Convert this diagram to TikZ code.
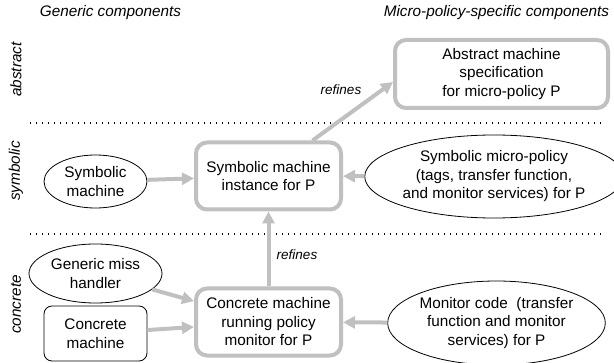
\documentclass[tikz,border=0pt]{standalone}
\usepackage{fontspec}
\setmainfont{Liberation Sans}
\usetikzlibrary{arrows.meta,shapes.geometric}
\definecolor{boxgray}{RGB}{192,192,192}
\begin{document}
\begin{tikzpicture}[x=1pt,y=1pt,
  every node/.style={font=\fontsize{15.3}{18.5}\selectfont, align=center, inner sep=0pt},
  bigbox/.style={draw=boxgray, line width=4pt, rounded corners=11pt, minimum width=145pt, minimum height=67pt, fill=white},
  oval/.style={draw=black, line width=0.8pt, ellipse},
  smallbox/.style={draw=black, line width=0.8pt, rounded corners=8pt},
  arr/.style={draw=boxgray, line width=4pt, -{Triangle[length=12pt,width=12pt]}},
  sepline/.style={line width=1.2pt, dash pattern=on 1.3pt off 4.7pt},
  lbl/.style={font=\fontsize{13.5}{16}\selectfont\itshape},
  hdr/.style={font=\fontsize{15.3}{18}\selectfont\itshape},
]
\useasboundingbox (0,0) rectangle (614,362);

% headers
\node[hdr] (hgen) at (110.5,349.5) {Generic components};
\node[hdr] (hmp) at (496.5,349.5) {Micro-policy-specific components};

% side labels
\node[hdr, rotate=90] (labs) at (16,292.5) {abstract};
\node[hdr, rotate=90] (lsym) at (16,191) {symbolic};
\node[hdr, rotate=90] (lcon) at (16,57.5) {concrete};

% separators
\coordinate (d1a) at (30,239);
\coordinate (d1b) at (603,239);
\coordinate (d2a) at (30,128);
\coordinate (d2b) at (603,128);
\draw[sepline] (d1a) -- (d1b);
\draw[sepline] (d2a) -- (d2b);

% main boxes
\node[bigbox, minimum width=213pt, minimum height=68pt] (abs) at (501.5,288)
  {Abstract machine\\specification\\for micro-policy P};
\node[bigbox] (sym) at (268.5,186) {Symbolic machine\\instance for P};
\node[bigbox] (con) at (268.5,40) {Concrete machine\\running policy\\monitor for P};

% generic components
\node[oval, minimum width=103pt, minimum height=53pt] (sm) at (95.5,180.5) {Symbolic\\machine};
\node[oval, minimum width=133pt, minimum height=59pt] (gmh) at (95.5,88.5) {Generic miss\\handler};
\node[smallbox, minimum width=103pt, minimum height=55pt] (cmr) at (95.5,28.5) {Concrete\\machine};

% policy-specific components
\node[oval, minimum width=232pt, minimum height=83pt] (smp) at (494,185.5)
  {Symbolic micro-policy\\(tags, transfer function,\\and monitor services) for P};
\node[oval, minimum width=215pt, minimum height=84pt] (mc) at (496.5,39)
  {Monitor code\ \ (transfer\\function and monitor\\services) for P};

% connectors
\draw[arr] (sm) -- (sym);
\draw[arr] (smp) -- (sym);
\draw[arr] (gmh) -- (con);
\draw[arr] (cmr) -- (con);
\draw[arr] (mc) -- (con);
\draw[arr] (con) -- (sym);
\draw[arr] ([xshift=44pt]sym.north) -- ([yshift=-8pt]abs.west);

% labels
\node[lbl] (ref1) at (341,272) {refines};
\node[lbl] (ref2) at (297,107) {refines};
\end{tikzpicture}
\end{document}
